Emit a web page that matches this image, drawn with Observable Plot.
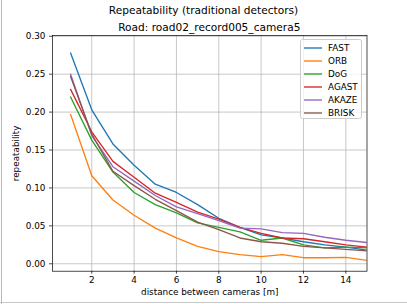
<!DOCTYPE html>
<html>
<head>
<meta charset="utf-8">
<script src="https://cdn.jsdelivr.net/npm/d3@7"></script>
<script src="https://cdn.jsdelivr.net/npm/@observablehq/plot@0.6"></script>
<style>
  html, body { margin: 0; padding: 0; background: #fff; }
  #wrap { position: relative; width: 407px; height: 304px; overflow: hidden; font-family: "DejaVu Sans", sans-serif; color: #000; }
  #wrap svg { position: absolute; left: 0; top: 0; }
  .ttl { position: absolute; font-size: 10.6px; white-space: nowrap; transform: translate(-50%, -50%); line-height: 1; }
  #legend { position: absolute; left: 300px; top: 39px; width: 61.5px; height: 80px; border: 0.8px solid #cccccc; border-radius: 2.5px; background: rgba(255,255,255,0.8); box-sizing: border-box; padding-top: 1px; }
  .lg { display: flex; align-items: center; height: 13px; font-size: 8.84px; }
  .lg svg { position: static !important; margin-left: 3px; margin-right: 6px; }
  .edgeL { position: absolute; left: 1px; top: 0; width: 1px; height: 304px; background: #b8b8b8; }
  .edgeB { position: absolute; left: 0; top: 302px; width: 407px; height: 1px; background: #c8c8c8; }
</style>
</head>
<body>
<div id="wrap"></div>
<script>
const distances = [1, 2, 3, 4, 5, 6, 7, 8, 9, 10, 11, 12, 13, 14, 15];
const FAST  = [0.278, 0.203, 0.158, 0.130, 0.105, 0.094, 0.078, 0.060, 0.048, 0.038, 0.034, 0.029, 0.025, 0.022, 0.018];
const ORB   = [0.197, 0.116, 0.084, 0.064, 0.047, 0.034, 0.023, 0.016, 0.012, 0.0095, 0.012, 0.008, 0.008, 0.0085, 0.0045];
const DoG   = [0.220, 0.163, 0.121, 0.094, 0.078, 0.067, 0.054, 0.048, 0.042, 0.031, 0.034, 0.025, 0.021, 0.022, 0.021];
const AGAST = [0.230, 0.174, 0.135, 0.114, 0.093, 0.081, 0.068, 0.059, 0.048, 0.040, 0.034, 0.033, 0.029, 0.025, 0.022];
const AKAZE = [0.250, 0.169, 0.128, 0.109, 0.090, 0.075, 0.066, 0.057, 0.047, 0.046, 0.041, 0.040, 0.035, 0.031, 0.028];
const BRISK = [0.247, 0.171, 0.122, 0.103, 0.085, 0.070, 0.055, 0.045, 0.034, 0.029, 0.027, 0.023, 0.021, 0.019, 0.017];

const seriesNames = ["FAST", "ORB", "DoG", "AGAST", "AKAZE", "BRISK"];
const seriesValues = [FAST, ORB, DoG, AGAST, AKAZE, BRISK];
const seriesColors = ["#1f77b4", "#ff7f0e", "#2ca02c", "#d62728", "#9467bd", "#8c564b"];

const xTicks = [2, 4, 6, 8, 10, 12, 14];
const yTicks = [0, 0.05, 0.10, 0.15, 0.20, 0.25, 0.30];

const suptitle = "Repeatability (traditional detectors)";
const axTitle = "Road: road02_record005_camera5";
const xLabel = "distance between cameras [m]";
const yLabel = "repeatability";

const rows = [];
seriesNames.forEach((name, i) => {
  distances.forEach((d, j) => rows.push({series: name, distance: d, value: seriesValues[i][j]}));
});

const chart = Plot.plot({
  width: 407,
  height: 304,
  marginLeft: 52,
  marginRight: 40.5,
  marginTop: 35,
  marginBottom: 33.3,
  x: {domain: [0.146, 15]},
  y: {domain: [-0.0098, 0.301]},
  color: {domain: seriesNames, range: seriesColors},
  style: {fontFamily: "DejaVu Sans", fontSize: "8.84px", color: "black", background: "transparent", overflow: "visible"},
  marks: [
    Plot.gridX(xTicks, {stroke: "#b0b0b0", strokeWidth: 0.7, strokeOpacity: 1}),
    Plot.gridY(yTicks, {stroke: "#b0b0b0", strokeWidth: 0.7, strokeOpacity: 1}),
    Plot.line(rows, {x: "distance", y: "value", z: "series", stroke: "series", strokeWidth: 1.35, clip: true}),
    Plot.frame({stroke: "black", strokeWidth: 0.7}),
    Plot.axisX(xTicks, {tickSize: 3, tickPadding: 3, strokeWidth: 0.7, label: xLabel, labelAnchor: "center", labelOffset: 23.5, labelArrow: "none"}),
    Plot.axisY(yTicks, {tickSize: 3, tickPadding: 4, strokeWidth: 0.7, tickFormat: d3.format(".2f"), label: yLabel, labelAnchor: "center", labelOffset: 39.5, labelArrow: "none"})
  ]
});

const wrap = document.getElementById("wrap");
wrap.appendChild(chart);

const edgeL = document.createElement("div"); edgeL.className = "edgeL"; wrap.appendChild(edgeL);
const edgeB = document.createElement("div"); edgeB.className = "edgeB"; wrap.appendChild(edgeB);

const t1 = document.createElement("div");
t1.className = "ttl"; t1.textContent = suptitle;
t1.style.left = "203.5px"; t1.style.top = "10px";
wrap.appendChild(t1);
const t2 = document.createElement("div");
t2.className = "ttl"; t2.textContent = axTitle;
t2.style.left = "209.3px"; t2.style.top = "27px";
wrap.appendChild(t2);

const legend = document.createElement("div");
legend.id = "legend";
seriesNames.forEach((name, i) => {
  const row = document.createElement("div");
  row.className = "lg";
  row.innerHTML = `<svg width="18" height="4"><line x1="0" x2="18" y1="2" y2="2" stroke="${seriesColors[i]}" stroke-width="1.35"/></svg><span>${name}</span>`;
  legend.appendChild(row);
});
wrap.appendChild(legend);
</script>
</body>
</html>
